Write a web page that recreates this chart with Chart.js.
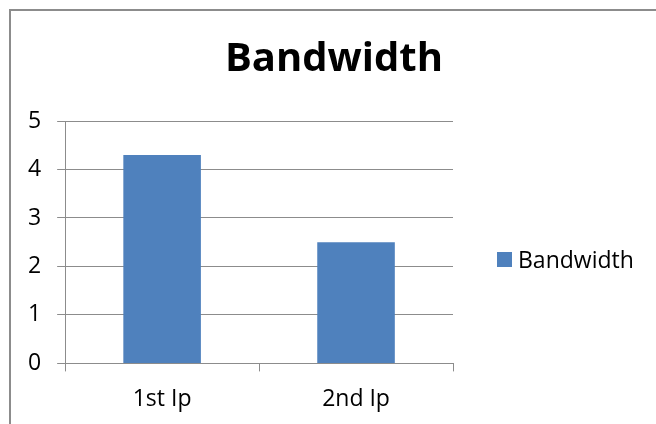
<!DOCTYPE html>
<html>
<head>
<meta charset="utf-8">
<script src="https://cdn.jsdelivr.net/npm/chart.js@4"></script>
<style>
  html, body { margin: 0; padding: 0; background: #fff; }
  #wrap { position: relative; width: 656px; height: 424px; overflow: hidden; }
  #frame { position: absolute; left: 9px; top: 9px; width: 700px; height: 500px;
           border-top: 2px solid #8c8c8c; border-left: 2px solid #8c8c8c; box-sizing: border-box; }
  #legend { position: absolute; left: 497px; top: 243px; font: 23px "Open Sans", sans-serif;
            color: #000; display: flex; align-items: center; white-space: nowrap; }
  #legend .box { width: 15px; height: 15px; margin-right: 6px; }
  canvas { position: absolute; left: 0; top: 0; }
</style>
</head>
<body>
<div id="wrap">
  <div id="frame"></div>
  <canvas id="chart" width="656" height="424"></canvas>
  <div id="legend"></div>
</div>
<script>
// datos del grafico
const categorias = ['1st Ip', '2nd Ip'];
const bandwidth = [4.3, 2.5];
const serieNombre = 'Bandwidth';
const tituloTexto = 'Bandwidth';
const yMin = 0, yMax = 5, yPaso = 1;

const colorBarra = '#4f81bd';
const colorLinea = '#8c8c8c';
const fuente = '"Open Sans", sans-serif';

// leyenda en html (a la derecha)
const legend = document.getElementById('legend');
legend.innerHTML = `<span class="box" style="background:${colorBarra}"></span><span>${serieNombre}</span>`;

new Chart(document.getElementById('chart').getContext('2d'), {
  type: 'bar',
  data: {
    labels: categorias,
    datasets: [{
      label: serieNombre,
      data: bandwidth,
      backgroundColor: colorBarra,
      barPercentage: 1,
      categoryPercentage: 0.4
    }]
  },
  options: {
    responsive: false,
    animation: false,
    layout: { padding: { left: 12, right: 0, top: 0, bottom: 0 } },
    plugins: {
      legend: { display: false },
      tooltip: { enabled: false },
      title: {
        display: true,
        text: tituloTexto,
        color: '#000',
        font: { family: fuente, size: 40, weight: 'bold' },
        padding: { top: 36, bottom: 37 }
      }
    },
    scales: {
      x: {
        grid: { drawOnChartArea: false, drawTicks: true, tickLength: 8, color: colorLinea },
        border: { color: colorLinea, width: 1 },
        ticks: { color: '#000', font: { family: fuente, size: 23 }, padding: 14 },
        afterFit: s => { s.height -= 3; }
      },
      y: {
        min: yMin,
        max: yMax,
        grid: { color: colorLinea, tickLength: 8 },
        border: { color: colorLinea, width: 1 },
        ticks: { stepSize: yPaso, color: '#000', font: { family: fuente, size: 23 }, padding: 16 }
      },
      // espacio vacio a la derecha para la leyenda
      hueco: {
        type: 'linear',
        position: 'right',
        grid: { display: false },
        border: { display: false },
        ticks: { display: false },
        afterFit: s => { s.width = 203; }
      }
    }
  }
});
</script>
</body>
</html>
